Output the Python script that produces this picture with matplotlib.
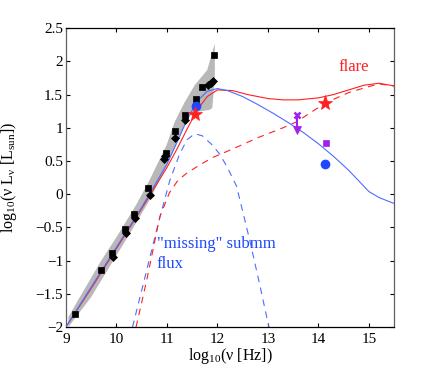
import matplotlib

matplotlib.use("Agg")
import matplotlib.pyplot as plt

plt.rcParams["font.family"] = ["Liberation Serif", "DejaVu Serif"]
plt.rcParams["mathtext.fontset"] = "custom"
plt.rcParams["mathtext.rm"] = "Liberation Serif"
plt.rcParams["mathtext.it"] = "Liberation Serif"

# Observed photometry (log10 nu, log10 nu L_nu)
sq_x = [9.18, 9.69, 9.92, 10.17, 10.35, 10.63, 10.98, 11.16, 11.36, 11.57, 11.70, 11.93]
sq_y = [-1.80, -1.14, -0.89, -0.53, -0.30, 0.09, 0.62, 0.95, 1.19, 1.43, 1.62, 2.09]
dm_x = [9.93, 10.19, 10.37, 10.66, 10.94, 10.97, 11.17, 11.36, 11.82, 11.87, 11.92]
dm_y = [-0.94, -0.59, -0.36, -0.01, 0.53, 0.58, 0.85, 1.11, 1.64, 1.68, 1.71]

# Grey uncertainty band
band_x = [9.05, 9.2, 9.7, 10.0, 10.4, 10.65, 11.0, 11.15, 11.35, 11.55, 11.8, 11.95,
          11.95, 11.9, 11.85, 11.45, 11.35, 11.0, 10.65, 10.3, 9.9, 9.5, 9.05]
band_y = [-1.85, -1.65, -1.0, -0.65, -0.15, 0.2, 0.75, 1.08, 1.38, 1.64, 1.87, 2.27,
          1.75, 1.3, 1.27, 1.22, 1.03, 0.43, -0.1, -0.55, -1.05, -1.55, -2.0]

# Model curves
blue_x = [9.0, 9.5, 10.0, 10.5, 11.0, 11.2, 11.4, 11.6, 11.8, 12.0, 12.2, 12.5, 12.8,
          13.1, 13.4, 13.7, 14.0, 14.3, 14.6, 14.8, 15.0, 15.2, 15.5]
blue_y = [-2.0, -1.4, -0.8, -0.2, 0.45, 0.78, 1.12, 1.4, 1.55, 1.59, 1.56, 1.47, 1.35,
          1.22, 1.08, 0.93, 0.76, 0.57, 0.36, 0.2, 0.04, -0.05, -0.14]
red_x = [9.0, 9.5, 10.0, 10.5, 11.0, 11.2, 11.4, 11.6, 11.8, 12.0, 12.3, 12.6, 13.0,
         13.3, 13.6, 14.0, 14.3, 14.6, 14.9, 15.2, 15.5]
red_y = [-2.0, -1.42, -0.82, -0.22, 0.4, 0.68, 0.98, 1.27, 1.47, 1.57, 1.56, 1.5, 1.44,
         1.42, 1.42, 1.45, 1.5, 1.57, 1.64, 1.67, 1.63]
red_dash_x = [10.39, 10.6, 10.86, 11.05, 11.22, 11.4, 11.65, 11.9, 12.3, 12.8, 13.3,
              13.57, 14.13, 14.6, 15.0, 15.2, 15.5]
red_dash_y = [-2.0, -1.3, -0.34, 0.02, 0.21, 0.32, 0.44, 0.55, 0.68, 0.85, 1.0,
              1.09, 1.37, 1.53, 1.62, 1.66, 1.63]
blue_dash_x = [10.32, 10.55, 10.83, 11.06, 11.25, 11.4, 11.55, 11.7, 11.9, 12.05, 12.2,
               12.38, 12.64, 12.85, 13.02]
blue_dash_y = [-2.0, -1.3, -0.44, 0.21, 0.6, 0.82, 0.91, 0.88, 0.74, 0.6, 0.4,
               0.12, -0.69, -1.4, -2.0]

# Single points
star_x = [11.55, 14.14]
star_y = [1.21, 1.37]
circ_x = [11.57, 14.14]
circ_y = [1.33, 0.45]
limit_x = 13.57
limit_top = 1.19
limit_bot = 0.97
psq_x = [14.16]
psq_y = [0.77]

red = "#ff2020"
blue_line = "#4d6dff"
blue_pt = "#1e48ff"
purple = "#a020f0"

fig = plt.figure(figsize=(4.36, 3.70), dpi=100)
ax = fig.add_axes([0.151, 0.116, 0.753, 0.808])

ax.fill(band_x, band_y, color="#b8b8b8", lw=0, zorder=1)
ax.plot(blue_dash_x, blue_dash_y, color=blue_line, lw=0.8, ls=(0, (6, 5)), zorder=2)
ax.plot(red_dash_x, red_dash_y, color=red, lw=0.8, ls=(0, (6, 5)), zorder=2)
ax.plot(red_x, red_y, color=red, lw=0.8, zorder=3)
ax.plot(blue_x, blue_y, color=blue_line, lw=0.8, zorder=3)

ax.plot(sq_x, sq_y, "s", color="black", ms=4.2, mew=0.5, zorder=4)
ax.plot(dm_x, dm_y, "D", color="black", ms=4, mew=0.5, zorder=4)
ax.plot(circ_x, circ_y, "o", color=blue_pt, ms=7, mew=0, zorder=5)
ax.plot(star_x, star_y, "*", color=red, ms=11, mew=0.5, zorder=6)

ax.plot([limit_x, limit_x], [limit_top, limit_bot], color=purple, lw=1.5, zorder=5)
ax.plot([limit_x], [limit_top], "x", color=purple, ms=4.5, mew=1.8, zorder=5)
ax.plot([limit_x], [limit_bot], "v", color=purple, ms=6, mew=0.5, zorder=5)
ax.plot(psq_x, psq_y, "s", color=purple, ms=4, mew=0.5, zorder=5)

ax.text(14.39, 1.91, "flare", color=red, fontsize=12, va="center", ha="left")
ax.text(10.8, -0.75, '"missing" submm', color=blue_pt, fontsize=12, va="center", ha="left")
ax.text(10.8, -1.05, "flux", color=blue_pt, fontsize=12, va="center", ha="left")

ax.set_xlim(9, 15.5)
ax.set_ylim(-2, 2.5)
ax.set_xticks([9, 10, 11, 12, 13, 14, 15])
ax.set_yticks([-2, -1.5, -1, -0.5, 0, 0.5, 1, 1.5, 2, 2.5])
ax.set_yticklabels(["\u22122", "\u22121.5", "\u22121", "\u22120.5", "0", "0.5", "1", "1.5", "2", "2.5"])
ax.tick_params(direction="in", top=True, right=True, length=3, width=0.8, labelsize=11)
ax.tick_params(axis="x", pad=4)
ax.tick_params(axis="y", pad=2)
for s in ax.spines.values():
    s.set_linewidth(0.9)
ax.spines["left"].set_color("#606060")
ax.spines["right"].set_color("#606060")

ax.set_xlabel("log$_{10}$(\u03bd [Hz])", fontsize=11.5, va="top")
ax.xaxis.set_label_coords(0.5, -0.062)
ax.set_ylabel("log$_{10}$(\u03bd L$_{\u03bd}$ [L$_{sun}$])", fontsize=11.5)
ax.yaxis.set_label_coords(-0.143, 0.5)

fig.savefig("out.png", dpi=100)
